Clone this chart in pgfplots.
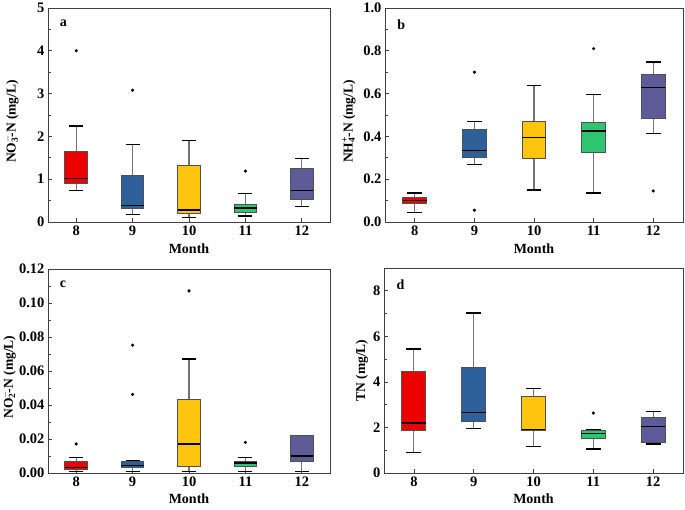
\documentclass[border=0pt]{standalone}
\usepackage{pgfplots}
\pgfplotsset{compat=1.18}
\usepgfplotslibrary{statistics}
\usepackage{fontspec}
\setmainfont{Liberation Serif}
\definecolor{cR}{RGB}{236,0,0}
\definecolor{cB}{RGB}{46,96,153}
\definecolor{cY}{RGB}{255,196,14}
\definecolor{cG}{RGB}{46,196,112}
\definecolor{cP}{RGB}{94,92,152}
\definecolor{boxd}{RGB}{80,80,80}
\newcommand{\bx}[8]{\addplot+[boxplot prepared={draw position=#2, lower whisker=#3, lower quartile=#4, median=#5, upper quartile=#6, upper whisker=#7, box extend=0.4, whisker extend=0.25}, fill=#1, draw=boxd, solid, mark=*, mark size=1.4pt, mark options={black, fill=black}] coordinates {#8};}
\tikzset{plabel/.style={font=\fontsize{14}{16}\selectfont\bfseries}}
\pgfplotsset{
  panel/.style={
    scale only axis,
    boxplot/draw direction=y,
    xmin=7.5, xmax=12.5,
    xtick={8,9,10,11,12},
    tick align=inside,
    tick pos=left,
    minor y tick num=1,
    major tick length=4pt,
    minor tick length=2.5pt,
    every tick/.style={black!75, line width=0.7pt},
    axis line style={black!75, line width=0.9pt},
    tick label style={font=\fontsize{14.5}{16}\selectfont\bfseries},
    /pgf/number format/assume math mode=true,
    xlabel={Month},
    xlabel style={font=\fontsize{14}{16}\selectfont\bfseries, at={(axis description cs:0.5,0)}, anchor=center, yshift=-27pt},
    ylabel style={font=\fontsize{13.5}{15}\selectfont\bfseries, anchor=center},
    clip=false,
    boxplot/every median/.style={black, line width=1.4pt},
    boxplot/every box/.style={draw=boxd, line width=0.9pt},
    boxplot/draw/lower whisker/.code={
      \draw[black!55, line width=1.1pt] (boxplot cs:\pgfplotsboxplotvalue{lower whisker}) -- (boxplot cs:\pgfplotsboxplotvalue{lower quartile});
      \draw[black, line width=1.4pt] (boxplot whisker cs:\pgfplotsboxplotvalue{lower whisker},0) -- (boxplot whisker cs:\pgfplotsboxplotvalue{lower whisker},1);
    },
    boxplot/draw/upper whisker/.code={
      \draw[black!55, line width=1.1pt] (boxplot cs:\pgfplotsboxplotvalue{upper whisker}) -- (boxplot cs:\pgfplotsboxplotvalue{upper quartile});
      \draw[black, line width=1.4pt] (boxplot whisker cs:\pgfplotsboxplotvalue{upper whisker},0) -- (boxplot whisker cs:\pgfplotsboxplotvalue{upper whisker},1);
    },
  },
}
\begin{document}
\begin{tikzpicture}
\useasboundingbox (0,0) rectangle (685pt,509pt);
% panel a
\begin{axis}[panel, at={(48pt,287pt)}, anchor=south west, width=282pt, height=214pt,
  ymin=0, ymax=5, ytick={0,1,2,3,4,5},
  ylabel style={at={(axis description cs:-0.128,0.47)}},
  ylabel={NO\rlap{\textsuperscript{$-$}}\textsubscript{3}-N (mg/L)}]
\node[plabel, anchor=north west] at (rel axis cs:0.03,0.96) {a};
\bx{cR}{8}{0.74}{0.90}{1.02}{1.65}{2.24}{(0,4.0)}
\bx{cB}{9}{0.18}{0.31}{0.38}{1.09}{1.81}{(0,3.08)}
\bx{cY}{10}{0.11}{0.20}{0.28}{1.33}{1.91}{}
\bx{cG}{11}{0.14}{0.22}{0.33}{0.42}{0.66}{(0,1.19)}
\bx{cP}{12}{0.36}{0.52}{0.74}{1.24}{1.49}{}
\end{axis}
% panel b
\begin{axis}[panel, at={(385pt,287pt)}, anchor=south west, width=298pt, height=214pt,
  ymin=0, ymax=1, ytick={0,0.2,0.4,0.6,0.8,1.0},
  yticklabel style={/pgf/number format/.cd, fixed, fixed zerofill, precision=1},
  ylabel style={at={(axis description cs:-0.121,0.47)}},
  ylabel={NH\rlap{\textsuperscript{+}}\textsubscript{4}-N (mg/L)}]
\node[plabel, anchor=north west] at (rel axis cs:0.03,0.96) {b};
\bx{cR}{8}{0.045}{0.085}{0.10}{0.115}{0.135}{}
\bx{cB}{9}{0.27}{0.30}{0.333}{0.433}{0.47}{(0,0.70) (0,0.055)}
\bx{cY}{10}{0.15}{0.298}{0.395}{0.469}{0.638}{}
\bx{cG}{11}{0.136}{0.326}{0.425}{0.464}{0.595}{(0,0.81)}
\bx{cP}{12}{0.414}{0.486}{0.629}{0.691}{0.748}{(0,0.145)}
\end{axis}
% panel c
\begin{axis}[panel, at={(48pt,36pt)}, anchor=south west, width=282pt, height=204pt,
  ymin=0, ymax=0.12, ytick={0,0.02,0.04,0.06,0.08,0.10,0.12},
  yticklabel style={/pgf/number format/.cd, fixed, fixed zerofill, precision=2},
  scaled y ticks=false,
  xlabel style={yshift=1pt},
  ylabel style={at={(axis description cs:-0.138,0.47)}},
  ylabel={NO\rlap{\textsuperscript{$-$}}\textsubscript{2}-N (mg/L)}]
\node[plabel, anchor=north west] at (rel axis cs:0.03,0.96) {c};
\bx{cR}{8}{0.0009}{0.0019}{0.0034}{0.0070}{0.0090}{(0,0.0171)}
\bx{cB}{9}{0.0009}{0.0030}{0.0044}{0.0068}{0.0073}{(0,0.0752) (0,0.0462)}
\bx{cY}{10}{0.0009}{0.0041}{0.0171}{0.0431}{0.0671}{(0,0.1071)}
\bx{cG}{11}{0.0009}{0.0041}{0.0058}{0.0069}{0.0090}{(0,0.0180)}
\bx{cP}{12}{0.0009}{0.0070}{0.0101}{0.0220}{0.0221}{}
\end{axis}
% panel d
\begin{axis}[panel, at={(384pt,36pt)}, anchor=south west, width=299pt, height=205pt,
  ymin=0, ymax=9, ytick={0,2,4,6,8},
  xlabel style={yshift=1pt},
  ylabel style={at={(axis description cs:-0.074,0.5)}},
  ylabel={TN (mg/L)}]
\node[plabel, anchor=north west] at (rel axis cs:0.03,0.96) {d};
\bx{cR}{8}{0.91}{1.86}{2.20}{4.48}{5.45}{}
\bx{cB}{9}{1.95}{2.28}{2.65}{4.65}{7.02}{}
\bx{cY}{10}{1.16}{1.88}{1.90}{3.35}{3.70}{}
\bx{cG}{11}{1.05}{1.53}{1.73}{1.85}{1.88}{(0,2.63)}
\bx{cP}{12}{1.27}{1.35}{2.05}{2.45}{2.70}{}
\end{axis}
\end{tikzpicture}
\end{document}
